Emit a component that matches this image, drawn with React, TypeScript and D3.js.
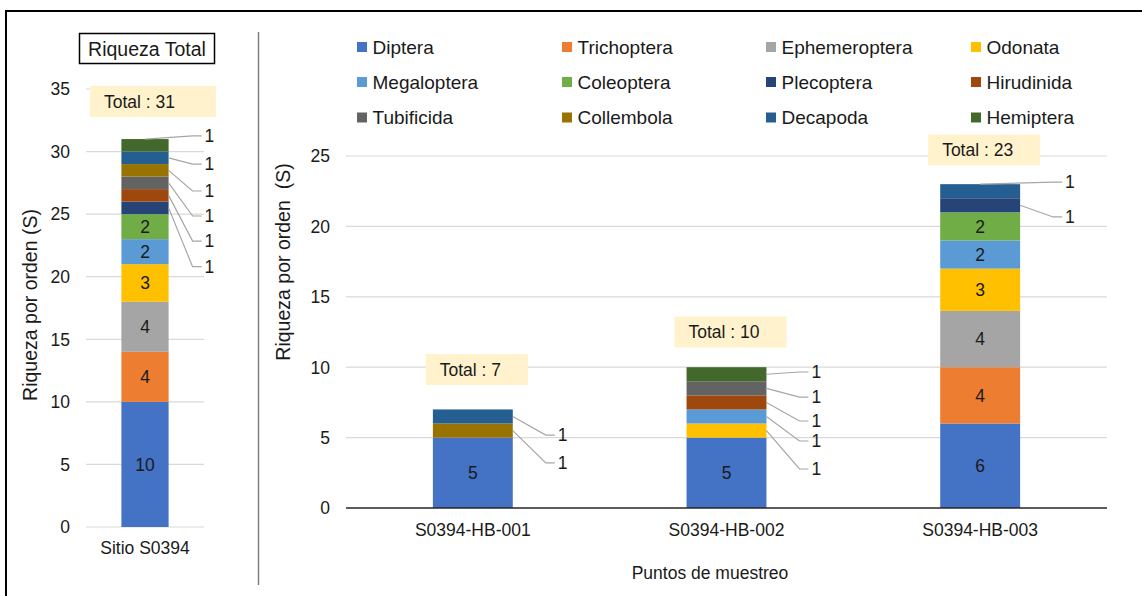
import React, { useEffect, useRef } from "react";
import * as d3 from "d3";

// ---------- DATA ----------
const orders = [
  "Diptera", "Trichoptera", "Ephemeroptera", "Odonata",
  "Megaloptera", "Coleoptera", "Plecoptera", "Hirudinida",
  "Tubificida", "Collembola", "Decapoda", "Hemiptera",
];
const orderColors = [
  "#4472C4", "#ED7D31", "#A5A5A5", "#FFC000",
  "#5B9BD5", "#70AD47", "#264478", "#9E480E",
  "#636363", "#997300", "#255E91", "#43682B",
];

// Left panel: total richness of the site
const totalCategory = ["Sitio S0394"];
const totalValues = [10, 4, 4, 3, 2, 2, 1, 1, 1, 1, 1, 1];

// Right panel: richness per sampling point (one array per order)
const sites = ["S0394-HB-001", "S0394-HB-002", "S0394-HB-003"];
const dipteraSites = [5, 5, 6];
const trichopteraSites = [0, 0, 4];
const ephemeropteraSites = [0, 0, 4];
const odonataSites = [0, 1, 3];
const megalopteraSites = [0, 1, 2];
const coleopteraSites = [0, 0, 2];
const plecopteraSites = [0, 0, 1];
const hirudinidaSites = [0, 1, 0];
const tubificidaSites = [0, 1, 0];
const collembolaSites = [1, 0, 0];
const decapodaSites = [1, 0, 1];
const hemipteraSites = [0, 1, 0];

const leftTicks = [0, 5, 10, 15, 20, 25, 30, 35];
const rightTicks = [0, 5, 10, 15, 20, 25];

// Outside label positions (in data units) for segments of value 1
const totalLabelY: Record<string, number>[] = [
  { Plecoptera: 20.8, Hirudinida: 22.85, Tubificida: 24.85, Collembola: 26.85, Decapoda: 29.0, Hemiptera: 31.25 },
];
const siteLabelY: Record<string, number>[] = [
  { Collembola: 3.2, Decapoda: 5.18 },
  { Odonata: 2.77, Megaloptera: 4.76, Hirudinida: 6.18, Tubificida: 7.88, Hemiptera: 9.66 },
  { Plecoptera: 20.67, Decapoda: 23.15 },
];
// "Total" boxes vertical centre (data units)
const totalBoxY = [34.0];
const siteBoxY = [9.84, 12.5, 25.43];

// ---------- DRAWING ----------
const FONT = "'Liberation Sans', Arial, sans-serif";
const TXT = "#1a1a1a";

function drawStacked(g: any, opts: any) {
  const { cats, rows, x, y, barFrac, labelY, lineDx, boxY, boxDx, boxRightPad } = opts;
  const series = d3.stack().keys(orders)(rows);
  const bw = x.bandwidth() * barFrac;
  const bx = (c: string) => (x(c) as number) + x.bandwidth() / 2 - bw / 2;

  // bars
  series.forEach((s: any, si: number) => {
    s.forEach((d: any, ci: number) => {
      const v = d[1] - d[0];
      if (v <= 0) return;
      const cat = cats[ci];
      g.append("rect")
        .attr("x", bx(cat))
        .attr("y", y(d[1]))
        .attr("width", bw)
        .attr("height", y(d[0]) - y(d[1]))
        .attr("fill", orderColors[si]);
    });
  });

  // labels
  series.forEach((s: any, si: number) => {
    s.forEach((d: any, ci: number) => {
      const v = d[1] - d[0];
      if (v <= 0) return;
      const cat = cats[ci];
      const left = bx(cat);
      const right = left + bw;
      if (v > 1) {
        g.append("text")
          .attr("x", left + bw / 2)
          .attr("y", y((d[0] + d[1]) / 2) + 6.3)
          .attr("text-anchor", "middle")
          .attr("font-size", 17.5)
          .attr("fill", TXT)
          .text(v);
      } else {
        const ly = labelY[ci][orders[si]];
        const end = right + lineDx;
        let ax: number, ay: number;
        if (ly > d[1]) {
          ax = left + bw / 2;
          ay = y(d[1]);
        } else {
          ax = right;
          ay = y((d[0] + d[1]) / 2);
        }
        g.append("path")
          .attr("d", `M${ax},${ay}L${end - 9},${y(ly)}L${end},${y(ly)}`)
          .attr("fill", "none")
          .attr("stroke", "#a6a6a6")
          .attr("stroke-width", 1.2);
        g.append("text")
          .attr("x", end + 3)
          .attr("y", y(ly) + 6.3)
          .attr("font-size", 17.5)
          .attr("fill", TXT)
          .text(v);
      }
    });
  });

  // total boxes
  cats.forEach((c: string, ci: number) => {
    const total = d3.sum(orders, (o) => rows[ci][o]);
    const cx = (x(c) as number) + x.bandwidth() / 2 + boxDx;
    const cy = y(boxY[ci]);
    const bg = g.append("g");
    const t = bg.append("text")
      .attr("font-size", 17.5)
      .attr("fill", TXT)
      .text(`Total : ${total}`);
    const tw = (t.node() as SVGTextElement).getComputedTextLength();
    const w = tw + 14 + boxRightPad;
    const h = 31;
    const bx0 = cx - w / 2;
    t.attr("x", bx0 + 14).attr("y", cy + 6.3);
    bg.insert("rect", "text")
      .attr("x", bx0)
      .attr("y", cy - h / 2)
      .attr("width", w)
      .attr("height", h)
      .attr("fill", "#FFF2CC");
  });
}

export default function App() {
  const ref = useRef<SVGSVGElement | null>(null);

  useEffect(() => {
    document.body.style.margin = "0";
    const svg = d3.select(ref.current);
    svg.selectAll("*").remove();
    svg.attr("font-family", FONT);

    // outer frame and divider
    svg.append("rect").attr("x", 6).attr("y", 11).attr("width", 1300).attr("height", 800)
      .attr("fill", "white").attr("stroke", "#000").attr("stroke-width", 2);
    svg.append("line").attr("x1", 258.5).attr("x2", 258.5).attr("y1", 32).attr("y2", 585)
      .attr("stroke", "#7f7f7f").attr("stroke-width", 1.5);

    // ---------- LEFT PANEL ----------
    const yL = d3.scaleLinear().domain([0, 35]).range([527, 89]);
    const xL = d3.scaleBand<string>().domain(totalCategory).range([86, 204]);
    const gL = svg.append("g");

    leftTicks.forEach((t) => {
      gL.append("line").attr("x1", 86).attr("x2", 204).attr("y1", yL(t)).attr("y2", yL(t))
        .attr("stroke", "#d9d9d9").attr("stroke-width", 1.2);
      gL.append("text").attr("x", 70).attr("y", yL(t) + 6.3).attr("text-anchor", "end")
        .attr("font-size", 17.5).attr("fill", TXT).text(t);
    });
    totalCategory.forEach((c) => {
      gL.append("text").attr("x", (xL(c) as number) + xL.bandwidth() / 2).attr("y", 554)
        .attr("text-anchor", "middle").attr("font-size", 17.5).attr("fill", TXT).text(c);
    });
    gL.append("text").attr("transform", "translate(37,305) rotate(-90)")
      .attr("text-anchor", "middle").attr("font-size", 19.5).attr("fill", TXT)
      .text("Riqueza por orden (S)");
    // title box
    gL.append("rect").attr("x", 79.5).attr("y", 33.5).attr("width", 135).attr("height", 30)
      .attr("fill", "white").attr("stroke", "#000").attr("stroke-width", 1.5);
    gL.append("text").attr("x", 147).attr("y", 55.5).attr("text-anchor", "middle")
      .attr("font-size", 19.5).attr("fill", TXT).text("Riqueza Total");

    const leftRow: any = { cat: totalCategory[0] };
    orders.forEach((o, i) => (leftRow[o] = totalValues[i]));
    drawStacked(gL, {
      cats: totalCategory, rows: [leftRow], x: xL, y: yL, barFrac: 0.4,
      labelY: totalLabelY, lineDx: 33, boxY: totalBoxY, boxDx: 8, boxRightPad: 41,
    });

    // ---------- RIGHT PANEL ----------
    const siteMatrix = [
      dipteraSites, trichopteraSites, ephemeropteraSites, odonataSites,
      megalopteraSites, coleopteraSites, plecopteraSites, hirudinidaSites,
      tubificidaSites, collembolaSites, decapodaSites, hemipteraSites,
    ];
    const rows = sites.map((s, ci) => {
      const r: any = { cat: s };
      orders.forEach((o, oi) => (r[o] = siteMatrix[oi][ci]));
      return r;
    });
    const yR = d3.scaleLinear().domain([0, 25]).range([508, 156]);
    const xR = d3.scaleBand<string>().domain(sites).range([346, 1107]);
    const gR = svg.append("g");

    rightTicks.forEach((t) => {
      if (t > 0) {
        gR.append("line").attr("x1", 346).attr("x2", 1107).attr("y1", yR(t)).attr("y2", yR(t))
          .attr("stroke", "#d9d9d9").attr("stroke-width", 1.2);
      }
      gR.append("text").attr("x", 330).attr("y", yR(t) + 6.3).attr("text-anchor", "end")
        .attr("font-size", 17.5).attr("fill", TXT).text(t);
    });
    sites.forEach((s) => {
      gR.append("text").attr("x", (xR(s) as number) + xR.bandwidth() / 2).attr("y", 535.5)
        .attr("text-anchor", "middle").attr("font-size", 17.5).attr("fill", TXT).text(s);
    });
    gR.append("text").attr("x", 710).attr("y", 579).attr("text-anchor", "middle")
      .attr("font-size", 17.5).attr("fill", TXT).text("Puntos de muestreo");
    gR.append("text").attr("transform", "translate(290,262) rotate(-90)")
      .attr("text-anchor", "middle").attr("font-size", 19.5).attr("fill", TXT)
      .attr("xml:space", "preserve").style("white-space", "pre")
      .text("Riqueza por orden  (S)");

    drawStacked(gR, {
      cats: sites, rows, x: xR, y: yR, barFrac: 0.315,
      labelY: siteLabelY, lineDx: 42, boxY: siteBoxY, boxDx: 4, boxRightPad: 27,
    });

    gR.append("line").attr("x1", 346).attr("x2", 1107).attr("y1", yR(0)).attr("y2", yR(0))
      .attr("stroke", "#262626").attr("stroke-width", 1.4);

    // legend
    const legX = [357, 562, 766, 971];
    const legY = [47, 82, 117.5];
    orders.forEach((o, i) => {
      const lx = legX[i % 4];
      const ly = legY[Math.floor(i / 4)];
      svg.append("rect").attr("x", lx).attr("y", ly - 5).attr("width", 10).attr("height", 10)
        .attr("fill", orderColors[i]);
      svg.append("text").attr("x", lx + 15.5).attr("y", ly + 6.8)
        .attr("font-size", 19).attr("fill", TXT).text(o);
    });
  }, []);

  return <svg ref={ref} width={1142} height={596} style={{ display: "block" }} />;
}
